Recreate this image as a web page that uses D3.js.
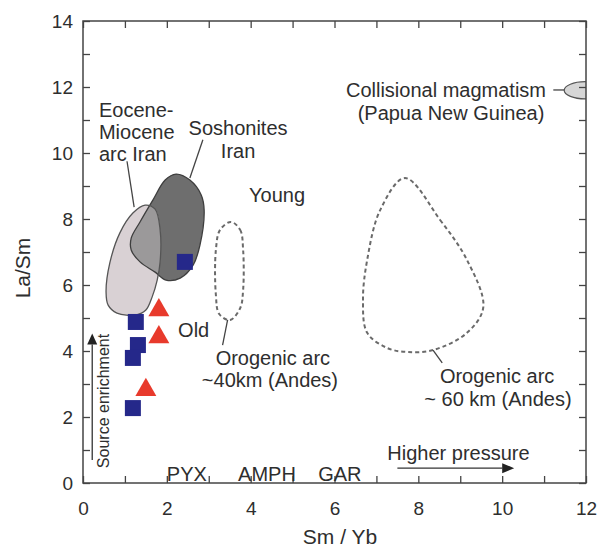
<!DOCTYPE html>
<html>
<head>
<meta charset="utf-8">
<script src="https://cdn.jsdelivr.net/npm/d3@7"></script>
<style>
  body { margin: 0; background: #fff; }
  svg text { font-family: "Liberation Sans", Arial, sans-serif; fill: #2e2e2e; }
</style>
</head>
<body>
<div id="chart"></div>
<script>
// samples (Sm/Yb, La/Sm)
const squares = [[2.43, 6.70], [1.26, 4.88], [1.31, 4.18], [1.19, 3.79], [1.19, 2.27]];
const triangles = [[1.81, 5.30], [1.81, 4.48], [1.50, 2.88]];

// fields
const eoceneField = [[1.48,8.42],[1.72,8.30],[1.84,7.67],[1.84,6.70],[1.77,6.15],[1.65,5.64],[1.50,5.24],
  [1.26,5.09],[0.81,5.15],[0.60,5.39],[0.55,5.79],[0.64,6.67],[0.88,7.58],[1.19,8.18]];
const shoshoniteField = [[1.67,8.58],[1.96,9.18],[2.22,9.36],[2.55,9.18],[2.82,8.73],[2.89,8.27],[2.79,7.21],
  [2.63,6.61],[2.32,6.21],[1.98,6.15],[1.72,6.39],[1.36,6.70],[1.15,7.06],[1.15,7.42],[1.36,7.91]];
const arc40Field = [[3.53,7.91],[3.75,7.67],[3.82,7.06],[3.82,5.85],[3.75,5.30],[3.51,4.94],[3.25,5.12],
  [3.17,5.70],[3.17,7.06],[3.27,7.67]];
const arc60Field = [[7.68,9.24],[8.52,7.97],[9.16,6.76],[9.55,5.33],[9.16,4.55],[8.35,4.03],[7.73,3.97],
  [7.26,4.09],[6.78,4.55],[6.68,5.55],[6.78,6.76],[7.09,8.27]];
const collisional = { cx: 11.98, cy: 11.9, rx: 0.50, ry: 0.26 };

const xTicks = d3.range(0, 13);
const yTicks = d3.range(0, 15);

// annotation text, placed in data units
const labels = [
  { t: "Eocene-", x: 0.38, y: 11.30, a: "start" },
  { t: "Miocene", x: 0.38, y: 10.64, a: "start" },
  { t: "arc Iran", x: 0.38, y: 9.98, a: "start" },
  { t: "Soshonites", x: 3.70, y: 10.76, a: "middle" },
  { t: "Iran", x: 3.70, y: 10.07, a: "middle" },
  { t: "Young", x: 4.63, y: 8.73, a: "middle" },
  { t: "Old", x: 2.64, y: 4.64, a: "middle" },
  { t: "Orogenic arc", x: 4.53, y: 3.80, a: "middle" },
  { t: "~40km (Andes)", x: 4.46, y: 3.11, a: "middle" },
  { t: "Orogenic arc", x: 9.88, y: 3.24, a: "middle" },
  { t: "~ 60 km (Andes)", x: 9.90, y: 2.55, a: "middle" },
  { t: "Collisional magmatism", x: 8.66, y: 11.91, a: "middle" },
  { t: "(Papua New Guinea)", x: 8.78, y: 11.22, a: "middle" },
  { t: "Higher pressure", x: 7.26, y: 0.91, a: "start" },
  { t: "PYX", x: 2.00, y: 0.27, a: "start" },
  { t: "AMPH", x: 3.70, y: 0.27, a: "start" },
  { t: "GAR", x: 5.61, y: 0.27, a: "start" }
];
const leaders = [
  [[1.05, 9.75], [1.22, 8.36]],
  [[2.86, 10.40], [2.55, 9.24]],
  [[3.45, 4.94], [3.33, 4.18]],
  [[8.35, 4.03], [8.57, 3.64]],
  [[11.22, 11.91], [11.48, 11.91]]
];

var width = 601, height = 552;
var x = d3.scaleLinear().domain([0, 12]).range([83, 586]);
var y = d3.scaleLinear().domain([0, 14]).range([483, 21]);

var svg = d3.select("#chart").append("svg")
  .attr("width", width).attr("height", height);

var defs = svg.append("defs");
defs.append("clipPath").attr("id", "plot")
  .append("rect").attr("x", 83).attr("y", 21).attr("width", 503).attr("height", 462);

var shape = d3.line().x(d => x(d[0])).y(d => y(d[1])).curve(d3.curveCatmullRomClosed.alpha(0.5));

defs.append("clipPath").attr("id", "eoceneClip")
  .append("path").attr("d", shape(eoceneField));

var g = svg.append("g").attr("clip-path", "url(#plot)");

// collisional field
g.append("ellipse")
  .attr("cx", x(collisional.cx)).attr("cy", y(collisional.cy))
  .attr("rx", x(collisional.rx) - x(0)).attr("ry", y(0) - y(collisional.ry))
  .attr("fill", "#d6d6d6").attr("stroke", "#555").attr("stroke-width", 1.2);

// dashed orogenic arc fields
[arc40Field, arc60Field].forEach(function (f) {
  g.append("path").attr("d", shape(f))
    .attr("fill", "none").attr("stroke", "#6a6a6a")
    .attr("stroke-width", 2).attr("stroke-dasharray", "4,3");
});

// shoshonite + eocene fields and overlap
g.append("path").attr("d", shape(shoshoniteField)).attr("fill", "#6e6e6e");
g.append("path").attr("d", shape(eoceneField)).attr("fill", "#d9d1d4");
g.append("path").attr("d", shape(shoshoniteField))
  .attr("clip-path", "url(#eoceneClip)").attr("fill", "#9b999a");
g.append("path").attr("d", shape(shoshoniteField))
  .attr("fill", "none").attr("stroke", "#3e3e3e").attr("stroke-width", 1.3);
g.append("path").attr("d", shape(eoceneField))
  .attr("fill", "none").attr("stroke", "#555").attr("stroke-width", 1.3);

// samples
g.selectAll(".sq").data(squares).enter().append("rect")
  .attr("class", "sq")
  .attr("x", d => x(d[0]) - 8).attr("y", d => y(d[1]) - 8)
  .attr("width", 16).attr("height", 16)
  .attr("fill", "#25288a");

var tri = d3.symbol().type(d3.symbolTriangle).size(190);
g.selectAll(".tri").data(triangles).enter().append("path")
  .attr("class", "tri")
  .attr("transform", d => "translate(" + x(d[0]) + "," + (y(d[1]) + 2) + ")")
  .attr("d", tri)
  .attr("fill", "#e83a2c");

// leader lines
g.selectAll(".lead").data(leaders).enter().append("line")
  .attr("x1", d => x(d[0][0])).attr("y1", d => y(d[0][1]))
  .attr("x2", d => x(d[1][0])).attr("y2", d => y(d[1][1]))
  .attr("stroke", "#444").attr("stroke-width", 1.3);

// axes, ticks inward on all four sides
function styleAxis(sel) {
  sel.select(".domain").remove();
  sel.selectAll("line").attr("stroke", "#444").attr("stroke-width", 1.3);
  sel.selectAll("text").style("font-size", "19px").attr("fill", "#333");
}
var evenFmt = d => (d % 2 === 0 ? d : "");
svg.append("g").attr("transform", "translate(0,483)")
  .call(d3.axisBottom(x).tickValues(xTicks).tickSizeInner(-7).tickSizeOuter(0).tickPadding(19).tickFormat(evenFmt))
  .call(styleAxis);
svg.append("g").attr("transform", "translate(0,21)")
  .call(d3.axisTop(x).tickValues(xTicks).tickSizeInner(-7).tickSizeOuter(0).tickFormat(""))
  .call(styleAxis);
svg.append("g").attr("transform", "translate(83,0)")
  .call(d3.axisLeft(y).tickValues(yTicks).tickSizeInner(-7).tickSizeOuter(0).tickPadding(10).tickFormat(evenFmt))
  .call(styleAxis);
svg.append("g").attr("transform", "translate(586,0)")
  .call(d3.axisRight(y).tickValues(yTicks).tickSizeInner(-7).tickSizeOuter(0).tickFormat(""))
  .call(styleAxis);

svg.append("rect").attr("x", 83).attr("y", 21).attr("width", 503).attr("height", 462)
  .attr("fill", "none").attr("stroke", "#444").attr("stroke-width", 1.5);

// labels
svg.selectAll(".lab").data(labels).enter().append("text")
  .attr("x", d => x(d.x)).attr("y", d => y(d.y)).attr("dy", "0.35em")
  .attr("text-anchor", d => d.a)
  .style("font-size", "20px")
  .text(d => d.t);

// arrows
function arrow(x1, y1, x2, y2) {
  svg.append("line").attr("x1", x1).attr("y1", y1).attr("x2", x2).attr("y2", y2)
    .attr("stroke", "#333").attr("stroke-width", 1.3);
}
arrow(x(7.5), y(0.45), x(10.0), y(0.45));
svg.append("path")
  .attr("d", "M" + x(10.0) + "," + (y(0.45) - 5) + "L" + (x(10.0) + 12) + "," + y(0.45) + "L" + x(10.0) + "," + (y(0.45) + 5) + "Z")
  .attr("fill", "#222");
arrow(x(0.22), y(0.7), x(0.22), y(4.2));
svg.append("path")
  .attr("d", "M" + (x(0.22) - 5) + "," + y(4.2) + "L" + x(0.22) + "," + (y(4.2) - 11) + "L" + (x(0.22) + 5) + "," + y(4.2) + "Z")
  .attr("fill", "#222");

svg.append("text")
  .attr("transform", "translate(" + (x(0.62)) + "," + y(0.45) + ") rotate(-90)")
  .attr("text-anchor", "start")
  .style("font-size", "16px")
  .text("Source enrichment");

// axis titles
svg.append("text").attr("x", 340).attr("y", 544).attr("text-anchor", "middle")
  .style("font-size", "21px").text("Sm / Yb");
svg.append("text").attr("transform", "translate(30,268) rotate(-90)").attr("text-anchor", "middle")
  .style("font-size", "21px").text("La/Sm");
</script>
</body>
</html>
